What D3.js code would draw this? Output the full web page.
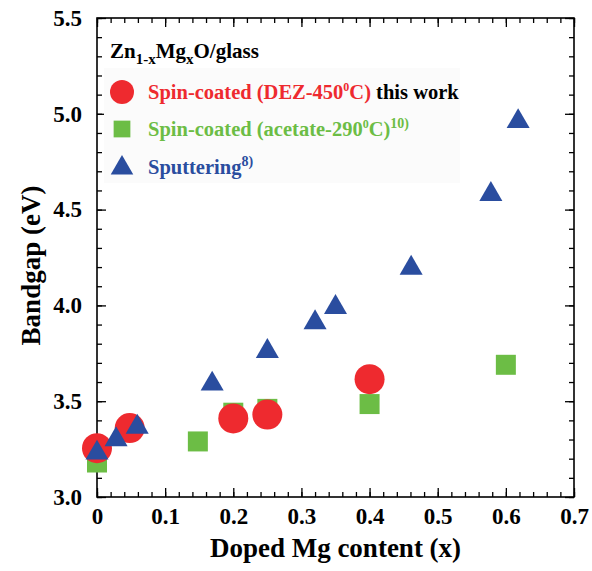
<!DOCTYPE html>
<html>
<head>
<meta charset="utf-8">
<script src="https://cdn.jsdelivr.net/npm/d3@7"></script>
<style>
  body { margin: 0; background: #fff; }
</style>
</head>
<body>
<div id="container"></div>
<script>
// Data (x = Mg content, y = bandgap in eV)
const spinDezX = [0, 0.048, 0.2, 0.25, 0.4];
const spinDezY = [3.255, 3.36, 3.41, 3.43, 3.615];

const acetateX = [0, 0.148, 0.2, 0.25, 0.4, 0.6];
const acetateY = [3.18, 3.29, 3.44, 3.46, 3.485, 3.69];

const sputterX = [0, 0.028, 0.059, 0.169, 0.25, 0.32, 0.35, 0.461, 0.578, 0.618];
const sputterY = [3.23, 3.30, 3.365, 3.59, 3.76, 3.91, 3.99, 4.195, 4.58, 4.96];

const xTicks = [0, 0.1, 0.2, 0.3, 0.4, 0.5, 0.6, 0.7];
const xTickLabels = ['0', '0.1', '0.2', '0.3', '0.4', '0.5', '0.6', '0.7'];
const yTicks = [3.0, 3.5, 4.0, 4.5, 5.0, 5.5];

const svgWidth = 592;
const svgHeight = 571;
const plotLeft = 97;
const plotRight = 574;
const plotTop = 18;
const plotBottom = 497;

const red = '#ee2a2f';
const green = '#6cbd45';
const blue = '#2a4d9f';

const svg = d3
  .select('#container')
  .append('svg')
  .attr('width', svgWidth)
  .attr('height', svgHeight);

const xScale = d3.scaleLinear().domain([0, 0.7]).range([plotLeft, plotRight]);
const yScale = d3.scaleLinear().domain([3.0, 5.5]).range([plotBottom, plotTop]);

// Axes (ticks pointing inward on all four sides)
const xMinor = d3.range(0, 0.7001, 0.02);
const yMinor = d3.range(3.0, 5.5001, 0.1);

const axisStyle = g => {
  g.attr('font-family', null);
  g.select('.domain').remove();
  g.selectAll('.tick line').attr('stroke', '#000').attr('stroke-width', 1.3);
};

svg.append('g')
  .attr('transform', `translate(0,${plotBottom})`)
  .call(d3.axisBottom(xScale).tickValues(xMinor).tickSize(-5).tickFormat(''))
  .call(axisStyle);
svg.append('g')
  .attr('transform', `translate(0,${plotBottom})`)
  .call(d3.axisBottom(xScale).tickValues(xTicks).tickSize(-9).tickPadding(11)
    .tickFormat((d, i) => xTickLabels[i]))
  .call(axisStyle)
  .selectAll('text')
  .attr('font-size', 23)
  .attr('fill', '#000');
svg.append('g')
  .attr('transform', `translate(0,${plotTop})`)
  .call(d3.axisTop(xScale).tickValues(xMinor).tickSize(-5).tickFormat(''))
  .call(axisStyle);
svg.append('g')
  .attr('transform', `translate(0,${plotTop})`)
  .call(d3.axisTop(xScale).tickValues(xTicks).tickSize(-9).tickFormat(''))
  .call(axisStyle);

svg.append('g')
  .attr('transform', `translate(${plotLeft},0)`)
  .call(d3.axisLeft(yScale).tickValues(yMinor).tickSize(-5).tickFormat(''))
  .call(axisStyle);
svg.append('g')
  .attr('transform', `translate(${plotLeft},0)`)
  .call(d3.axisLeft(yScale).tickValues(yTicks).tickSize(-9).tickPadding(15)
    .tickFormat(d3.format('.1f')))
  .call(axisStyle)
  .selectAll('text')
  .attr('font-size', 23)
  .attr('fill', '#000');
svg.append('g')
  .attr('transform', `translate(${plotRight},0)`)
  .call(d3.axisRight(yScale).tickValues(yMinor).tickSize(-5).tickFormat(''))
  .call(axisStyle);
svg.append('g')
  .attr('transform', `translate(${plotRight},0)`)
  .call(d3.axisRight(yScale).tickValues(yTicks).tickSize(-9).tickFormat(''))
  .call(axisStyle);

// Frame
svg.append('rect')
  .attr('x', plotLeft)
  .attr('y', plotTop)
  .attr('width', plotRight - plotLeft)
  .attr('height', plotBottom - plotTop)
  .attr('fill', 'none')
  .attr('stroke', '#000')
  .attr('stroke-width', 1.6);

// Axis titles
svg.append('text')
  .attr('x', (plotLeft + plotRight) / 2)
  .attr('y', 557)
  .attr('text-anchor', 'middle')
  .attr('font-size', 27)
  .text('Doped Mg content (x)');

svg.append('text')
  .attr('transform', `translate(40,${(plotTop + plotBottom) / 2 + 8}) rotate(-90)`)
  .attr('text-anchor', 'middle')
  .attr('font-size', 27)
  .text('Bandgap (eV)');

// Legend
svg.append('rect')
  .attr('x', 104)
  .attr('y', 68)
  .attr('width', 356)
  .attr('height', 115)
  .attr('fill', '#fbfbfb');

const title = svg.append('text')
  .attr('x', 110)
  .attr('y', 58)
  .attr('font-size', 21)
  .attr('fill', '#000');
title.append('tspan').text('Zn');
title.append('tspan').attr('dy', 6).attr('font-size', 15).text('1-x');
title.append('tspan').attr('dy', -6).text('Mg');
title.append('tspan').attr('dy', 6).attr('font-size', 15).text('x');
title.append('tspan').attr('dy', -6).text('O/glass');

const triangle = d3.symbol().type(d3.symbolTriangle);
const square = d3.symbol().type(d3.symbolSquare);

svg.append('circle').attr('cx', 122).attr('cy', 92).attr('r', 12).attr('fill', red);
svg.append('path').attr('d', square.size(280)()).attr('transform', 'translate(122,129)').attr('fill', green);
svg.append('path').attr('d', triangle.size(220)()).attr('transform', 'translate(122,168)').attr('fill', blue);

const l1 = svg.append('text').attr('x', 148).attr('y', 99).attr('font-size', 20.5);
l1.append('tspan').attr('fill', red).text('Spin-coated (DEZ-450');
l1.append('tspan').attr('fill', red).attr('dy', -8).attr('font-size', 12).text('0');
l1.append('tspan').attr('fill', red).attr('dy', 8).text('C)');
l1.append('tspan').attr('fill', '#000').text(' this work');

const l2 = svg.append('text').attr('x', 148).attr('y', 136).attr('font-size', 20.5);
l2.append('tspan').attr('fill', green).text('Spin-coated (acetate-290');
l2.append('tspan').attr('fill', green).attr('dy', -8).attr('font-size', 12).text('0');
l2.append('tspan').attr('fill', green).attr('dy', 8).text('C)');
l2.append('tspan').attr('fill', green).attr('dy', -8).attr('font-size', 14).text('10)');

const l3 = svg.append('text').attr('x', 148).attr('y', 174).attr('font-size', 20.5);
l3.append('tspan').attr('fill', blue).text('Sputtering');
l3.append('tspan').attr('fill', blue).attr('dy', -8).attr('font-size', 14).text('8)');

// Data marks: green squares, red circles, blue triangles (drawing order)
svg.append('g')
  .selectAll('path')
  .data(acetateX)
  .enter()
  .append('path')
  .attr('d', square.size(400)())
  .attr('transform', (d, i) => `translate(${xScale(d)},${yScale(acetateY[i])})`)
  .attr('fill', green);

svg.append('g')
  .selectAll('circle')
  .data(spinDezX)
  .enter()
  .append('circle')
  .attr('cx', d => xScale(d))
  .attr('cy', (d, i) => yScale(spinDezY[i]))
  .attr('r', 15)
  .attr('fill', red);

svg.append('g')
  .selectAll('path')
  .data(sputterX)
  .enter()
  .append('path')
  .attr('d', triangle.size(230)())
  .attr('transform', (d, i) => `translate(${xScale(d)},${yScale(sputterY[i])})`)
  .attr('fill', blue);

// Times-like bold type everywhere
svg.selectAll('text')
  .attr('font-family', 'Liberation Serif')
  .attr('font-weight', 'bold');
</script>
</body>
</html>
